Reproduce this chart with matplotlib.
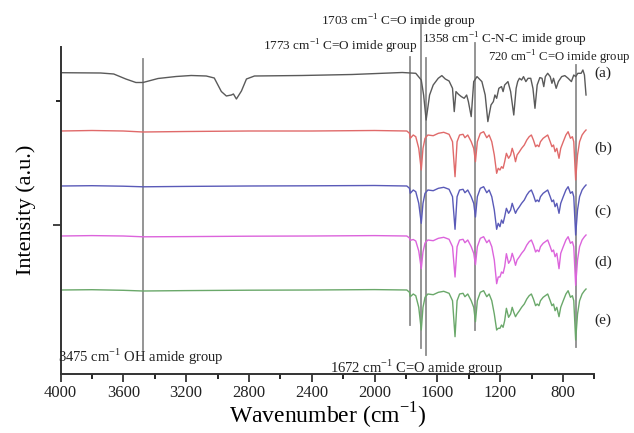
import numpy as np
import matplotlib
matplotlib.use('Agg')
import matplotlib.pyplot as plt
from matplotlib.ticker import MultipleLocator

plt.rcParams['font.family'] = ['Liberation Serif', 'DejaVu Serif']
plt.rcParams['mathtext.fontset'] = 'custom'
plt.rcParams['mathtext.rm'] = 'Liberation Serif'

# FTIR spectra, wavenumber (cm-1) and relative transmittance
wn_a = [4000, 3744, 3661, 3584, 3520, 3475, 3379, 3264, 3168, 3072,
        3021, 2976, 2944, 2912, 2899, 2880, 2848, 2816, 2765, 2464,
        2144, 1824, 1738, 1703, 1688, 1672, 1650, 1627, 1595, 1572,
        1550, 1526, 1504, 1493, 1482, 1466, 1448, 1430, 1414, 1403,
        1385, 1369, 1348, 1317, 1296, 1279, 1259, 1244, 1234, 1223,
        1209, 1192, 1182, 1172, 1151, 1134, 1114, 1099, 1089, 1078,
        1064, 1052, 1037, 1023, 1006, 992, 979, 965, 948, 934,
        923, 913, 898, 882, 871, 861, 844, 830, 809, 789,
        768, 747, 732, 720, 706, 685, 674, 664, 654]
int_a = [0.006, 0.003, -0.007, -0.057, -0.092, -0.092, -0.052, -0.032, -0.022, -0.027,
         -0.047, -0.182, -0.227, -0.217, -0.207, -0.257, -0.177, -0.057, -0.027, -0.022,
         -0.012, 0.008, 0.0, -0.067, -0.217, -0.467, -0.217, -0.117, -0.05, -0.023,
         -0.057, -0.077, -0.15, -0.383, -0.183, -0.21, -0.233, -0.25, -0.217, -0.283,
         -0.433, -0.083, -0.033, -0.083, -0.217, -0.483, -0.317, -0.283, -0.217, -0.25,
         -0.15, -0.133, -0.183, -0.117, -0.083, -0.183, -0.417, -0.15, -0.083, -0.05,
         -0.067, -0.033, -0.083, -0.05, -0.05, -0.15, -0.35, -0.117, -0.043, -0.05,
         -0.133, -0.033, 0.0, -0.033, -0.1, -0.05, -0.15, -0.083, -0.033, -0.023,
         -0.05, -0.083, -0.017, -0.033, 0.0, 0.0, 0.033, -0.017, -0.217]

wn_bcde = [4000, 3800, 3600, 3475, 3200, 2800, 2400, 2000,
           1795, 1778, 1773, 1754, 1738, 1719, 1703, 1692, 1679, 1661,
           1627, 1594, 1560, 1526, 1504, 1488, 1475, 1459, 1437, 1425,
           1407, 1385, 1369, 1358, 1346, 1327, 1306, 1286, 1271, 1254,
           1238, 1223, 1213, 1202, 1192, 1182, 1172, 1161, 1147, 1134,
           1124, 1114, 1103, 1093, 1078, 1064, 1047, 1031, 1016, 1002,
           989, 975, 965, 954, 944, 927, 913, 898, 882, 871,
           861, 851, 840, 826, 815, 799, 782, 768, 753, 741,
           732, 720, 708, 695, 679, 664, 654]
int_b = [0.0, 0.005, 0.0, -0.01, -0.005, 0.0, 0.0, 0.005,
         0.0, -0.023, -0.073, -0.04, -0.057, -0.173, -0.39, -0.173, -0.073, -0.04,
         -0.047, -0.023, -0.013, -0.033, -0.107, -0.457, -0.107, -0.04, -0.033, -0.067,
         -0.04, -0.107, -0.173, -0.307, -0.107, -0.023, -0.007, -0.067, -0.04, -0.107,
         -0.24, -0.423, -0.373, -0.39, -0.357, -0.373, -0.307, -0.223, -0.273, -0.24,
         -0.173, -0.223, -0.307, -0.24, -0.207, -0.173, -0.14, -0.09, -0.057, -0.04,
         -0.09, -0.157, -0.14, -0.157, -0.107, -0.073, -0.057, -0.04, -0.107, -0.157,
         -0.14, -0.207, -0.173, -0.273, -0.173, -0.107, -0.04, -0.007, -0.073, -0.057,
         -0.107, -0.49, -0.24, -0.107, -0.04, -0.007, 0.01]
int_c = [0.0, 0.003, -0.002, -0.008, -0.004, 0.0, 0.002, 0.005,
         0.0, -0.023, -0.073, -0.04, -0.057, -0.173, -0.373, -0.173, -0.073, -0.04,
         -0.047, -0.023, -0.013, -0.033, -0.107, -0.433, -0.107, -0.04, -0.033, -0.067,
         -0.04, -0.107, -0.173, -0.31, -0.107, -0.023, -0.007, -0.067, -0.04, -0.107,
         -0.24, -0.433, -0.373, -0.407, -0.34, -0.373, -0.307, -0.223, -0.273, -0.24,
         -0.173, -0.223, -0.273, -0.24, -0.207, -0.173, -0.14, -0.09, -0.057, -0.04,
         -0.09, -0.157, -0.14, -0.157, -0.107, -0.073, -0.057, -0.04, -0.107, -0.157,
         -0.14, -0.207, -0.173, -0.273, -0.173, -0.107, -0.04, -0.007, -0.073, -0.057,
         -0.107, -0.49, -0.24, -0.107, -0.04, -0.007, 0.01]
int_d = [0.0, 0.004, 0.0, -0.008, -0.006, -0.002, 0.0, 0.004,
         0.0, -0.02, -0.043, -0.035, -0.05, -0.15, -0.327, -0.16, -0.07, -0.04,
         -0.047, -0.023, -0.013, -0.033, -0.107, -0.41, -0.107, -0.04, -0.033, -0.067,
         -0.04, -0.107, -0.173, -0.287, -0.107, -0.023, -0.007, -0.067, -0.04, -0.107,
         -0.24, -0.477, -0.41, -0.41, -0.36, -0.373, -0.307, -0.177, -0.273, -0.24,
         -0.173, -0.223, -0.293, -0.24, -0.207, -0.173, -0.14, -0.09, -0.057, -0.04,
         -0.09, -0.16, -0.14, -0.157, -0.107, -0.073, -0.057, -0.04, -0.107, -0.157,
         -0.14, -0.207, -0.173, -0.327, -0.173, -0.107, -0.04, -0.007, -0.073, -0.057,
         -0.107, -0.493, -0.24, -0.107, -0.04, -0.007, 0.01]
int_e = [0.0, 0.003, -0.003, -0.01, -0.006, -0.002, 0.0, 0.004,
         0.0, -0.023, -0.067, -0.04, -0.057, -0.173, -0.4, -0.173, -0.073, -0.04,
         -0.047, -0.023, -0.013, -0.033, -0.107, -0.467, -0.107, -0.04, -0.033, -0.067,
         -0.04, -0.107, -0.173, -0.317, -0.107, -0.023, -0.007, -0.067, -0.04, -0.107,
         -0.24, -0.4, -0.383, -0.383, -0.35, -0.373, -0.307, -0.183, -0.273, -0.24,
         -0.173, -0.223, -0.267, -0.24, -0.207, -0.173, -0.14, -0.09, -0.057, -0.04,
         -0.09, -0.157, -0.14, -0.157, -0.107, -0.073, -0.057, -0.04, -0.107, -0.157,
         -0.14, -0.207, -0.173, -0.267, -0.173, -0.107, -0.04, -0.007, -0.073, -0.057,
         -0.107, -0.5, -0.24, -0.107, -0.04, -0.007, 0.01]

labels = ['(a)', '(b)', '(c)', '(d)', '(e)']
colors = ['#5a5a5a', '#e06a6a', '#5a5ab8', '#dc64dc', '#6aa86a']
offsets = [3.007, 2.43, 1.88, 1.38, 0.84]
label_y = [3.01, 2.26, 1.63, 1.12, 0.54]

# band assignments: (wavenumber, text, line bottom, line top, text x, text y, size)
bands = [
    (3475, r'3475 cm$^{\mathregular{-1}}$ OH amide group', 0.24, 3.15, 4018, 0.17, 10.5),
    (1773, r'1773 cm$^{\mathregular{-1}}$ C=O imide group', 0.49, 3.17, 2710, 3.27, 9.5),
    (1703, r'1703 cm$^{\mathregular{-1}}$ C=O imide group', 0.26, 3.54, 2341, 3.52, 9.5),
    (1672, r'1672 cm$^{\mathregular{-1}}$ C=O amide group', 0.19, 3.16, 2284, 0.06, 10.5),
    (1358, r'1358 cm$^{\mathregular{-1}}$ C-N-C imide group', 0.44, 3.31, 1697, 3.34, 9.5),
    (720, r'720 cm$^{\mathregular{-1}}$ C=O imide group', 0.27, 3.09, 1280, 3.16, 9.2),
]

fig = plt.figure(figsize=(6.34, 4.33), dpi=100)
ax = fig.add_axes([60.5 / 634, (433 - 374) / 433, 534 / 634, 327.5 / 433])

spectra = [(wn_a, int_a), (wn_bcde, int_b), (wn_bcde, int_c),
           (wn_bcde, int_d), (wn_bcde, int_e)]
for (wn, ints), off, c in zip(spectra, offsets, colors):
    ax.plot(wn, np.array(ints) + off, color=c, lw=1.0)

for wn0, txt, y0, y1, tx, ty, fs in bands:
    ax.plot([wn0, wn0], [y0, y1], color='#8c8c8c', lw=1.3, clip_on=False, zorder=1)
    ax.text(tx, ty, txt, fontsize=fs, ha='left', va='center', color='#222222')

for lab, ly in zip(labels, label_y):
    ax.text(600, ly, lab, fontsize=11, ha='left', va='center', color='#222222')

ax.set_xlim(4000, 600)
ax.set_ylim(0, 3.275)
ax.xaxis.set_major_locator(MultipleLocator(400))
ax.xaxis.set_minor_locator(MultipleLocator(200))
ax.set_yticks([1.49])
ax.set_yticks([2.73], minor=True)
ax.set_yticklabels([])
ax.tick_params(axis='both', which='major', direction='out', length=6, width=1.2,
               labelsize=12, colors='#222222')
ax.tick_params(axis='both', which='minor', direction='out', length=3.5, width=1.2)
ax.tick_params(axis='x', pad=2)

for side in ['top', 'right']:
    ax.spines[side].set_visible(False)
for side in ['left', 'bottom']:
    ax.spines[side].set_linewidth(1.4)
    ax.spines[side].set_color('#333333')

ax.set_xlabel(r'Wavenumber (cm$^{\mathregular{-1}}$)', fontsize=17, labelpad=0)
ax.set_ylabel('Intensity (a.u.)', fontsize=16, labelpad=8)

fig.savefig('out.png', dpi=100)
